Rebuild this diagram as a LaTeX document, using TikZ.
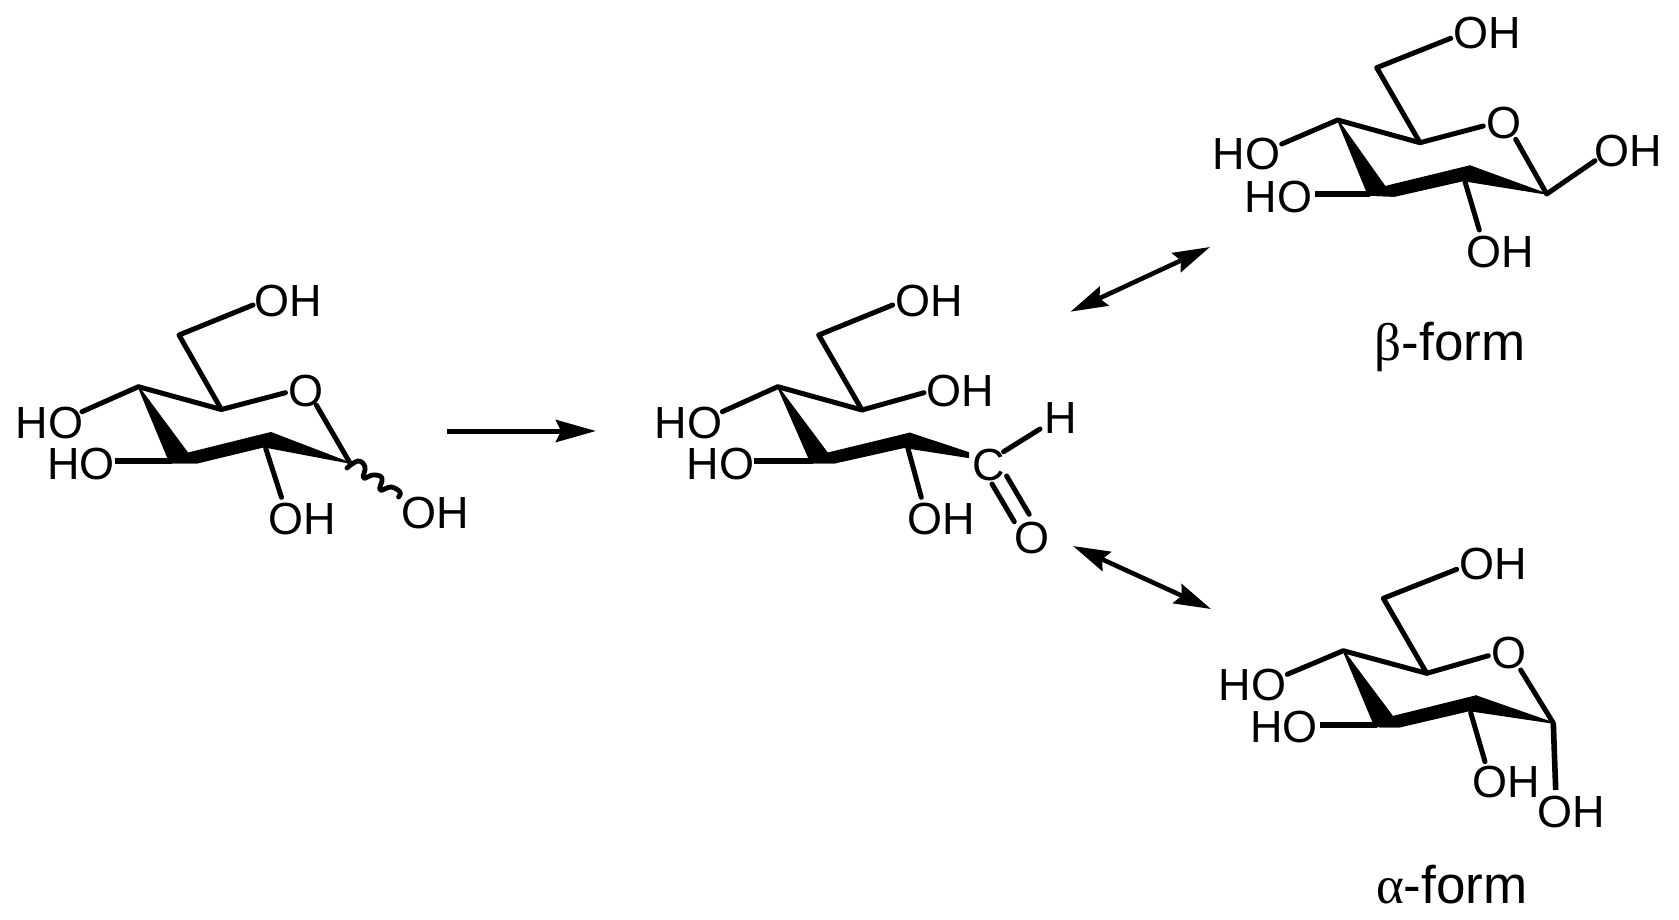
\documentclass[tikz,border=0pt]{standalone}
\usepackage{fontspec}
\setmainfont{Liberation Sans}
\newfontfamily\greekfont{Liberation Serif}
\usetikzlibrary{arrows.meta}
\tikzset{
  atom/.style={inner sep=0pt,outer sep=0pt,yshift=-1pt,font=\fontsize{45}{45}\selectfont},
  caption/.style={inner sep=0pt,outer sep=0pt,font=\fontsize{53}{53}\selectfont},
  bond/.style={line width=5pt,line cap=round,line join=round},
  bold bond/.style={line width=5.8pt,line cap=butt},
  solid part/.style={fill=black,draw=black,line width=1.4pt,line join=round},
  rxn/.style={line width=5pt,-{Stealth[length=40pt,width=22pt,inset=5pt]}},
  eq/.style={line width=4.6pt,{Stealth[length=37pt,width=21pt,inset=5pt]}-{Stealth[length=37pt,width=21pt,inset=5pt]}},
}
\begin{document}
\begin{tikzpicture}[x=1pt,y=-1pt]
\useasboundingbox (0,0) rectangle (1679,919);
% ---- left molecule
\node[atom] (aOH6) at (288.6,300) {OH};
\node[atom] (aO) at (305.7,390) {O};
\node[atom] (aHO4) at (49.4,421.7) {HO};
\node[atom] (aHO3) at (81,463.3) {HO};
\node[atom] (aOH2) at (302.5,518.3) {OH};
\node[atom] (aOH1) at (435,512.3) {OH};
\coordinate (aC6) at (179,335);
\coordinate (aC5) at (221.4,409.5);
\coordinate (aC4) at (138.4,386.7);
\coordinate (aC2) at (270.9,432.7);
\coordinate (aC1) at (350,463);
\coordinate (ae6) at (253,305);
\coordinate (aeO) at (285.5,392.7);
\coordinate (ae4) at (82,411.7);
\coordinate (ae2a) at (265.7,448.3);
\coordinate (ae2b) at (281.5,497.3);
\coordinate (aeOb) at (316.3,405);
\coordinate (ae1) at (398.5,497);
\coordinate (ae3a) at (114.7,460.7);
\coordinate (ae3b) at (172,460.7);
\coordinate (aw1) at (170,462.7);
\coordinate (aw2) at (187.8,453.3);
\coordinate (aw3) at (197.7,462.7);
\coordinate (aw4) at (264,446.7);
\draw[bond] (ae6)--(aC6)--(aC5)--(aeO);
\draw[bond] (ae4)--(aC4)--(aC5);
\draw[bond] (ae2a)--(ae2b);
\draw[bond] (aeOb)--(aC1);
\draw[bold bond] (ae3a)--(ae3b);
\fill[solid part] (aC4)--(aw2)--(aw3)--(aw1)--cycle;
\fill[solid part] (aw2)--(aC2)--(aw4)--(aw3)--(aw1)--cycle;
\fill[solid part] (aC2)--(aC1)--(aw4)--cycle;
\draw[bond,line width=4.8pt] plot[smooth,tension=0.7] coordinates {(347,468) (358,461) (365,467) (363.5,478) (373,475) (382,478) (380,490) (391,487) (400,492) (ae1)};
% reaction arrow
\coordinate (r1) at (447,431);
\coordinate (r2) at (596,431);
\draw[rxn] (r1)--(r2);
% ---- middle molecule
\node[atom] (bOH6) at (929,300) {OH};
\node[atom] (bOH5) at (960.7,390) {OH};
\node[atom] (bHO4) at (688.6,421.7) {HO};
\node[atom] (bHO3) at (720.4,463.3) {HO};
\node[atom] (bOH2) at (941.6,518.3) {OH};
\node[atom] (bC) at (988.3,464) {C};
\node[atom] (bH) at (1061,416.7) {H};
\node[atom] (bO) at (1031.9,536.7) {O};
\coordinate (bC6) at (818.7,335);
\coordinate (bC5) at (862,410);
\coordinate (bC4) at (777.8,386.7);
\coordinate (bC2) at (909.8,433.3);
\coordinate (be6) at (892.6,305);
\coordinate (be5) at (924,392.7);
\coordinate (be4) at (722.3,411.7);
\coordinate (be2a) at (907.9,448.3);
\coordinate (be2b) at (921.3,497.3);
\coordinate (be3a) at (754,460.7);
\coordinate (be3b) at (813,460.7);
\coordinate (beH1) at (1003.6,451.7);
\coordinate (beH2) at (1040,429);
\coordinate (bd1a) at (992,484);
\coordinate (bd1b) at (1014.3,521.7);
\coordinate (bd2a) at (1006.6,476);
\coordinate (bd2b) at (1029.2,514.3);
\coordinate (bw1) at (811,462.7);
\coordinate (bw2) at (827.5,453.3);
\coordinate (bw3) at (835.2,462.7);
\coordinate (bw4) at (904,447.3);
\coordinate (bw5) at (968.4,452.7);
\coordinate (bw6) at (968.4,457.3);
\draw[bond] (be6)--(bC6)--(bC5)--(be5);
\draw[bond] (be4)--(bC4)--(bC5);
\draw[bond] (be2a)--(be2b);
\draw[bond] (beH1)--(beH2);
\draw[bond] (bd1a)--(bd1b);
\draw[bond] (bd2a)--(bd2b);
\draw[bold bond] (be3a)--(be3b);
\fill[solid part] (bC4)--(bw2)--(bw3)--(bw1)--cycle;
\fill[solid part] (bw2)--(bC2)--(bw4)--(bw3)--(bw1)--cycle;
\fill[solid part] (bC2)--(bw5)--(bw6)--(bw4)--cycle;
% equilibrium arrows
\coordinate (u1) at (1070.5,311.7);
\coordinate (u2) at (1210,247);
\coordinate (l1) at (1073,546);
\coordinate (l2) at (1211,609);
\draw[eq] (u1)--(u2);
\draw[eq] (l1)--(l2);
% ---- beta form
\node[atom] (cOH6) at (1487.3,31.7) {OH};
\node[atom] (cO) at (1504,121.7) {O};
\node[atom] (cHO4) at (1246.7,153.3) {HO};
\node[atom] (cHO3) at (1278.3,195.7) {HO};
\node[atom] (cOH2) at (1500,250.7) {OH};
\node[atom] (cOH1) at (1628.3,150) {OH};
\node[caption] (cform) at (1450,347) {{\greekfont β}-form};
\coordinate (cC6) at (1376.7,67.7);
\coordinate (cC5) at (1420,142.7);
\coordinate (cC4) at (1337.7,120);
\coordinate (cC2) at (1470,166);
\coordinate (cC1) at (1546.7,194);
\coordinate (ce6) at (1450.7,38.3);
\coordinate (ceO) at (1483.3,126);
\coordinate (ce4) at (1281.7,144);
\coordinate (ce2a) at (1465,181.7);
\coordinate (ce2b) at (1479.3,230);
\coordinate (ceOb) at (1515.7,139.3);
\coordinate (ce1) at (1595,160.7);
\coordinate (ce3a) at (1315,194);
\coordinate (ce3b) at (1370,194);
\coordinate (cw1) at (1368.3,195);
\coordinate (cw2) at (1385,186.7);
\coordinate (cw3) at (1395,196);
\coordinate (cw4) at (1463.3,180.5);
\draw[bond] (ce6)--(cC6)--(cC5)--(ceO);
\draw[bond] (ce4)--(cC4)--(cC5);
\draw[bond] (ce2a)--(ce2b);
\draw[bond] (ceOb)--(cC1)--(ce1);
\draw[bold bond] (ce3a)--(ce3b);
\fill[solid part] (cC4)--(cw2)--(cw3)--(cw1)--cycle;
\fill[solid part] (cw2)--(cC2)--(cw4)--(cw3)--(cw1)--cycle;
\fill[solid part] (cC2)--(cC1)--(cw4)--cycle;
% ---- alpha form
\node[atom] (dOH6) at (1493.3,562.7) {OH};
\node[atom] (dO) at (1509,651.7) {O};
\node[atom] (dHO4) at (1252.7,684) {HO};
\node[atom] (dHO3) at (1284,725.7) {HO};
\node[atom] (dOH2) at (1506,780.7) {OH};
\node[atom] (dOH1) at (1571.7,810.7) {OH};
\node[caption] (dform) at (1451.7,885) {{\greekfont α}-form};
\coordinate (dC6) at (1383.3,598.3);
\coordinate (dC5) at (1426.7,673.3);
\coordinate (dC4) at (1343.3,650.7);
\coordinate (dC2) at (1476,696);
\coordinate (dC1) at (1553.3,723);
\coordinate (de6) at (1456.7,569.3);
\coordinate (deO) at (1488.3,655.7);
\coordinate (de4) at (1287.3,674.3);
\coordinate (de2a) at (1470.7,712.7);
\coordinate (de2b) at (1485,761.7);
\coordinate (deOb) at (1520.7,670);
\coordinate (de1) at (1555.7,790);
\coordinate (de3a) at (1320,725);
\coordinate (de3b) at (1377,725);
\coordinate (dw1) at (1375,726.5);
\coordinate (dw2) at (1392.7,716.7);
\coordinate (dw3) at (1400,726.7);
\coordinate (dw4) at (1469.3,710.5);
\draw[bond] (de6)--(dC6)--(dC5)--(deO);
\draw[bond] (de4)--(dC4)--(dC5);
\draw[bond] (de2a)--(de2b);
\draw[bond] (deOb)--(dC1);
\draw[bond,line cap=butt,line width=5.6pt] (dC1)--(de1);
\draw[bold bond] (de3a)--(de3b);
\fill[solid part] (dC4)--(dw2)--(dw3)--(dw1)--cycle;
\fill[solid part] (dw2)--(dC2)--(dw4)--(dw3)--(dw1)--cycle;
\fill[solid part] (dC2)--(dC1)--(dw4)--cycle;
\end{tikzpicture}
\end{document}
